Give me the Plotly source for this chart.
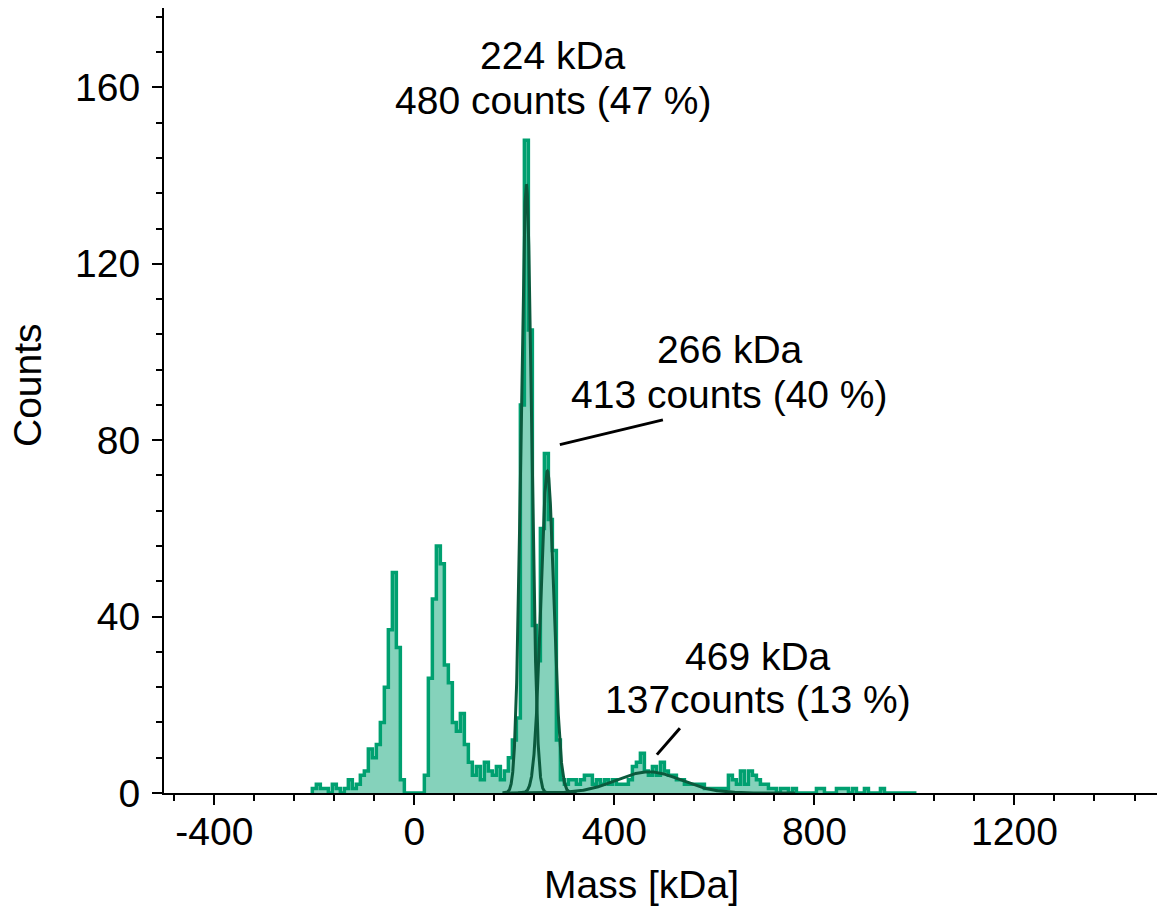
import numpy as np
import plotly.graph_objects as go

# ---------------- data ----------------
bin_start = -204      # kDa, left edge of first bin
bin_width = 8         # kDa
counts = [
    1, 2, 1, 1, 0, 2, 1, 0, 1, 3,          # -204 .. -132
    1, 2, 4, 5, 10, 8, 11, 16, 24, 37,     # -124 .. -52
    50, 33, 3, 0, 0, 0, 0, 0, 4, 26,       # -44 .. 28
    44, 56, 52, 29, 25, 16, 14, 18, 11, 7, # 36 .. 108
    4, 6, 3, 7, 5, 4, 6, 3, 5, 8,          # 116 .. 188
    12, 17, 88, 148, 105, 38, 30, 60, 77, 62,  # 196 .. 268
    55, 12, 3, 2, 3, 3, 2, 3, 4, 4,        # 276 .. 348
    2, 3, 2, 3, 2, 3, 2, 2, 2, 3,          # 356 .. 428
    6, 7, 9, 5, 4, 6, 4, 7, 5, 4,          # 436 .. 508
    4, 3, 3, 2, 2, 2, 2, 2, 1, 1,          # 516 .. 588
    1, 1, 1, 1, 4, 3, 2, 5, 2, 5,          # 596 .. 668
    4, 3, 2, 2, 1, 1, 0, 1, 1, 0,          # 676 .. 748
    1, 0, 0, 0, 0, 0, 1, 1, 0, 0,          # 756 .. 828
    0, 1, 1, 1, 0, 1, 0, 0, 1, 0,          # 836 .. 908
    0, 0, 1, 0, 0, 0, 0, 0, 0, 0,          # 916 .. 988
    0,                                     # 996
]

fit_centers = [224, 266, 469]      # kDa
fit_sigmas = [10.5, 13, 65]        # kDa
fit_heights = [138, 73, 4.8]       # counts per bin

peak_labels = ["224 kDa", "266 kDa", "469 kDa"]
count_labels = ["480 counts (47 %)", "413 counts (40 %)", "137counts (13 %)"]

x_ticks = [-400, 0, 400, 800, 1200]
y_ticks = [0, 40, 80, 120, 160]

# ---------------- figure ----------------
FONT = "Liberation Sans, Arial, sans-serif"
HIST_LINE = "#00a070"
HIST_FILL = "rgba(0,160,112,0.48)"
FIT_LINE = "#0b5a3d"

W, H = 1157, 908
ML, MR, MT, MB = 164, 0, 8, 115

def px_to_paper(px, py):
    return (px - ML) / (W - ML - MR), 1 - (py - MT) / (H - MT - MB)

edges = bin_start + bin_width * np.arange(len(counts) + 1)
hx = [edges[0]] + list(edges[:-1]) + [edges[-1]]
hy = [0] + list(counts) + [0]

fig = go.Figure()
fig.add_trace(go.Scatter(
    x=hx, y=hy, mode="lines", line=dict(shape="hv", color=HIST_LINE, width=3.5),
    fill="tozeroy", fillcolor=HIST_FILL, hoverinfo="skip", showlegend=False))

for mu, sd, h in zip(fit_centers, fit_sigmas, fit_heights):
    gx = np.linspace(mu - 4.5 * sd, mu + 4.5 * sd, 500)
    gy = h * np.exp(-0.5 * ((gx - mu) / sd) ** 2)
    fig.add_trace(go.Scatter(x=gx, y=gy, mode="lines",
                             line=dict(color=FIT_LINE, width=3),
                             hoverinfo="skip", showlegend=False))

# labels: (x, y of first line, y of second line) in data coords
label_pos = [(278, 167.3, 157.0), (631, 100.5, 90.3), (687, 30.9, 21.1)]
for (lx, y1, y2), t1, t2 in zip(label_pos, peak_labels, count_labels):
    fig.add_annotation(x=lx, y=y1, text=t1, showarrow=False, xref="x", yref="y",
                       xanchor="center", font=dict(size=39, color="black", family=FONT))
    fig.add_annotation(x=lx, y=y2, text=t2, showarrow=False, xref="x", yref="y",
                       xanchor="center", font=dict(size=39, color="black", family=FONT))

# leader lines
fig.add_shape(type="line", x0=291, y0=79, x1=497, y1=84.6, xref="x", yref="y",
              line=dict(color="black", width=3))
fig.add_shape(type="line", x0=485, y0=8.7, x1=531, y1=14.7, xref="x", yref="y",
              line=dict(color="black", width=3))

# axis titles
tx, ty = px_to_paper(641, 884)
fig.add_annotation(xref="paper", yref="paper", x=tx, y=ty, text="Mass [kDa]",
                   showarrow=False, xanchor="center", yanchor="middle",
                   font=dict(size=39, color="black", family=FONT))
tx, ty = px_to_paper(27, 385)
fig.add_annotation(xref="paper", yref="paper", x=tx, y=ty, text="Counts", textangle=-90,
                   showarrow=False, xanchor="center", yanchor="middle",
                   font=dict(size=39, color="black", family=FONT))

axis_common = dict(showgrid=False, zeroline=False, showline=True, linecolor="black",
                   linewidth=2, ticks="outside", ticklen=10, tickwidth=2,
                   tickcolor="black", automargin=False,
                   tickfont=dict(size=39, color="black", family=FONT))

fig.update_xaxes(range=[-500.6, 1485], tickvals=x_ticks,
                 ticktext=[str(v) for v in x_ticks],
                 minor=dict(dtick=80, tick0=0, ticks="outside", ticklen=6,
                            tickwidth=2, tickcolor="black"),
                 ticklabelstandoff=-7, **axis_common)
fig.update_yaxes(range=[0, 178], tickvals=y_ticks,
                 ticktext=[str(v) for v in y_ticks],
                 minor=dict(dtick=8, tick0=0, ticks="outside", ticklen=6,
                            tickwidth=2, tickcolor="black"),
                 ticklabelstandoff=4, **axis_common)

fig.update_layout(width=W, height=H, plot_bgcolor="white", paper_bgcolor="white",
                  margin=dict(l=ML, r=MR, t=MT, b=MB, autoexpand=False),
                  font=dict(family=FONT))

fig.write_html("out.html", config={"displayModeBar": False},
               post_script="document.body.style.margin='0';"
                           "document.body.style.overflow='hidden';")
